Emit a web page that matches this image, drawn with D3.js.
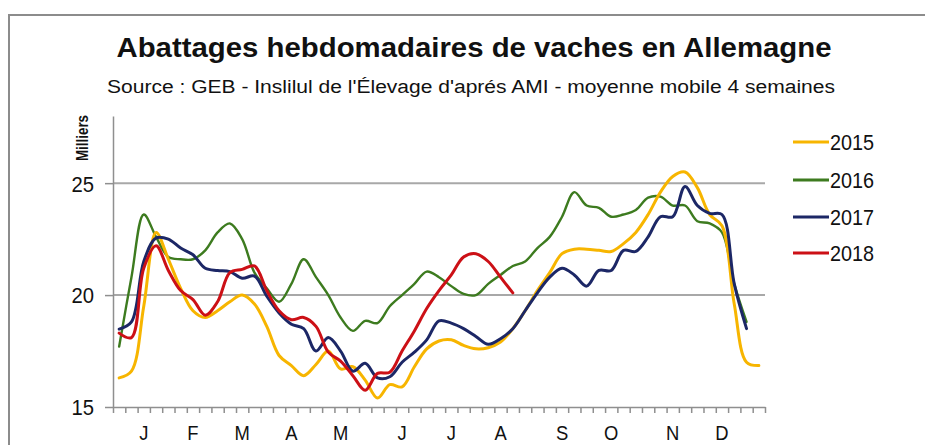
<!DOCTYPE html>
<html>
  <head>
    <meta charset="utf-8">
    <title>Abattages hebdomadaires de vaches en Allemagne</title>
    <script src="https://cdn.jsdelivr.net/npm/d3@7"></script>
    <style>
      body { margin: 0; background: #fff; }
      svg text { font-family: "Liberation Sans", Arial, sans-serif; fill: #111; }
      .frame { fill: none; stroke: #8c8c8c; stroke-width: 2; }
      .grid line { stroke: #a8a8a8; stroke-width: 2; }
      .axis path, .axis line { stroke: #8f8f8f; stroke-width: 1.5; }
      .series { fill: none; stroke-linejoin: round; stroke-linecap: round; }
    </style>
  </head>
  <body>
    <svg id="chart" width="925" height="445"></svg>
    <script>
      // weekly cow slaughter, thousands (4-week moving average)
      const weeks = d3.range(53);
      const monthLabels = ["J", "F", "M", "A", "M", "J", "J", "A", "S", "O", "N", "D"];
      const monthWeeks = [2, 6, 10, 14, 18, 23, 27, 31, 36, 40, 45, 49];
      const yTicks = [15, 20, 25];
      const years = ["2015", "2016", "2017", "2018"];
      const colors = ["#f7b500", "#3d7b1f", "#1c2766", "#cc1016"];

      const s2015 = [16.3, 16.6, 19.5, 22.8, 21.6, 20.3, 19.3, 19.0, 19.3, 19.7, 20.0, 19.6, 18.6, 17.3, 16.85, 16.4, 16.9, 17.5, 16.7, 16.8, 16.2, 15.4, 16.0, 15.9, 16.8, 17.6, 17.95, 18.0, 17.75, 17.6, 17.65, 17.9, 18.5, 19.3, 20.2, 21.0, 21.85, 22.05, 22.05, 22.0, 21.95, 22.3, 22.8, 23.6, 24.6, 25.3, 25.5, 24.8, 23.6, 23.1, 19.6, 17.0, 16.85];
      const s2016 = [17.7, 20.8, 23.6, 22.6, 21.7, 21.6, 21.6, 22.0, 22.8, 23.2, 22.5, 21.0, 20.3, 19.7, 20.5, 21.6, 20.8, 20.0, 19.0, 18.4, 18.85, 18.75, 19.5, 20.0, 20.5, 21.05, 20.8, 20.4, 20.05, 20.0, 20.5, 20.9, 21.3, 21.5, 22.1, 22.6, 23.5, 24.6, 24.0, 23.9, 23.5, 23.6, 23.8, 24.35, 24.4, 24.0, 24.0, 23.3, 23.2, 22.8, 20.5, 18.8];
      const s2017 = [18.48, 18.8, 21.5, 22.55, 22.5, 22.1, 21.8, 21.2, 21.1, 21.05, 20.75, 20.85, 19.95, 19.2, 18.7, 18.5, 17.5, 18.1, 17.5, 16.6, 16.95, 16.3, 16.35, 17.0, 17.45, 18.0, 18.85, 18.75, 18.5, 18.15, 17.8, 18.05, 18.5, 19.3, 20.1, 20.8, 21.2, 20.9, 20.4, 21.1, 21.1, 22.0, 21.95, 22.6, 23.5, 23.5, 24.85, 24.0, 23.65, 23.6, 20.5, 18.5];
      const s2018 = [18.3, 18.1, 21.2, 22.2, 21.1, 20.2, 19.8, 19.1, 19.7, 21.0, 21.15, 21.3, 20.2, 19.3, 18.9, 19.0, 18.6, 17.45, 17.05, 16.4, 15.75, 16.5, 16.55, 17.5, 18.4, 19.4, 20.2, 20.9, 21.7, 21.85, 21.5, 20.8, 20.1];
      const series = [s2015, s2016, s2017, s2018];

      const svg = d3.select("#chart");
      const plotLeft = 113, plotRight = 765, plotTop = 116, plotBottom = 407;

      // squeeze text horizontally, the source picture is narrow-ish
      function squeeze(sel, k) {
        sel.each(function() {
          const w = this.getComputedTextLength();
          d3.select(this)
            .attr("textLength", w * k)
            .attr("lengthAdjust", "spacingAndGlyphs");
        });
      }

      // frame
      svg.append("path")
        .attr("class", "frame")
        .attr("d", "M9,450 L9,15 L930,15");

      // titles
      svg.append("text")
        .attr("x", 474)
        .attr("y", 57)
        .attr("text-anchor", "middle")
        .style("font-size", "28px")
        .style("font-weight", "bold")
        .attr("textLength", 715)
        .attr("lengthAdjust", "spacingAndGlyphs")
        .text("Abattages hebdomadaires de vaches en Allemagne");
      svg.append("text")
        .attr("x", 471)
        .attr("y", 93)
        .attr("text-anchor", "middle")
        .style("font-size", "18px")
        .attr("textLength", 728)
        .attr("lengthAdjust", "spacingAndGlyphs")
        .text("Source : GEB - Inslilul de l'Élevage d'aprés AMI - moyenne mobile 4 semaines");

      // scales
      const x = d3.scaleBand()
        .domain(weeks)
        .range([plotLeft, plotRight]);
      const xEdge = d3.scaleLinear()
        .domain([0, weeks.length])
        .range([plotLeft, plotRight]);
      const y = d3.scaleLinear()
        .domain([15, 28])
        .range([plotBottom, plotTop]);

      // gridlines
      svg.append("g")
        .attr("class", "grid")
        .selectAll("line")
          .data(yTicks.filter(function(d) { return d > 15; }))
        .enter().append("line")
          .attr("x1", plotLeft)
          .attr("x2", plotRight)
          .attr("y1", function(d) { return y(d); })
          .attr("y2", function(d) { return y(d); });

      // y axis
      const yAxis = svg.append("g")
        .attr("class", "axis")
        .attr("transform", "translate(" + plotLeft + ",0)")
        .call(d3.axisLeft(y).tickValues(yTicks).tickSize(8).tickPadding(11).tickSizeOuter(0));
      yAxis.selectAll("text")
        .style("font-size", "22px")
        .attr("dy", "0.36em")
        .call(squeeze, 0.92);

      svg.append("text")
        .attr("transform", "translate(88,138) rotate(-90)")
        .attr("text-anchor", "middle")
        .style("font-size", "16px")
        .style("font-weight", "bold")
        .attr("textLength", 46)
        .attr("lengthAdjust", "spacingAndGlyphs")
        .text("Milliers");

      // x axis: tick marks between weeks, month labels on chosen weeks
      svg.append("g")
        .attr("class", "axis")
        .attr("transform", "translate(0," + plotBottom + ")")
        .call(d3.axisBottom(xEdge).tickValues(d3.range(weeks.length + 1)).tickSize(6).tickFormat("").tickSizeOuter(0));
      const xAxis = svg.append("g")
        .attr("class", "axis")
        .attr("transform", "translate(0," + plotBottom + ")")
        .call(d3.axisBottom(x)
          .tickValues(monthWeeks)
          .tickSize(0)
          .tickPadding(19)
          .tickFormat(function(d) { return monthLabels[monthWeeks.indexOf(d)]; }));
      xAxis.select(".domain").remove();
      xAxis.selectAll("text")
        .style("font-size", "20px")
        .call(squeeze, 0.92);

      // lines
      const line = d3.line()
        .x(function(d, i) { return x(i) + x.bandwidth() / 2; })
        .y(function(d) { return y(d); })
        .curve(d3.curveCatmullRom.alpha(0.5));
      const order = [1, 0, 2, 3];
      svg.append("g")
        .selectAll("path")
          .data(order)
        .enter().append("path")
          .attr("class", "series")
          .attr("stroke", function(k) { return colors[k]; })
          .attr("stroke-width", function(k) { return k === 1 ? 2.4 : 3; })
          .attr("d", function(k) { return line(series[k]); });

      // legend
      const legend = svg.append("g")
        .attr("transform", "translate(793,142)");
      const item = legend.selectAll("g")
          .data(years)
        .enter().append("g")
          .attr("transform", function(d, i) { return "translate(0," + [0, 38, 75, 111][i] + ")"; });
      item.append("line")
        .attr("x2", 36)
        .attr("stroke", function(d, i) { return colors[i]; })
        .attr("stroke-width", 3);
      item.append("text")
        .attr("x", 37)
        .attr("dy", "0.36em")
        .style("font-size", "22px")
        .text(function(d) { return d; })
        .call(squeeze, 0.9);
    </script>
  </body>
</html>
